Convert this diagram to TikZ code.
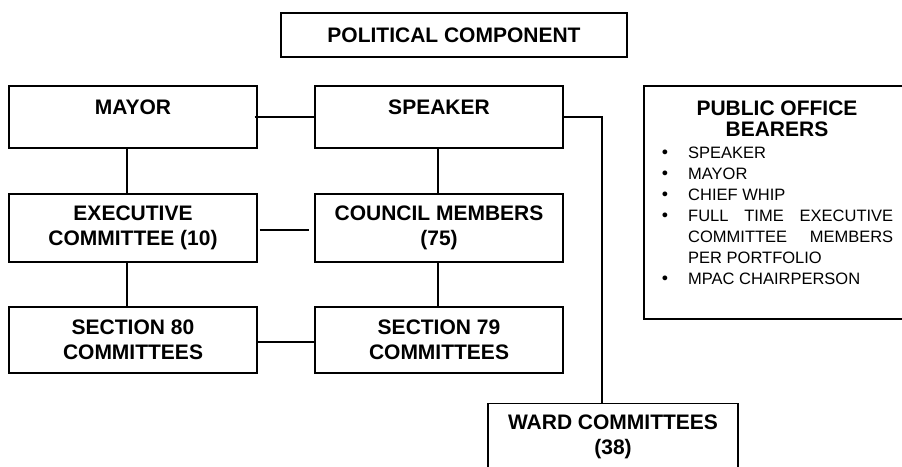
\documentclass[tikz,border=0pt]{standalone}
\usepackage{fontspec}
\setmainfont{Liberation Sans}
\newfontfamily\bulletfont{DejaVu Sans}
\newcommand{\officebullet}{{\bulletfont •}}
\begin{document}
\begin{tikzpicture}[x=1pt, y=-1pt,
        box/.style = {draw, line width=1.2pt, inner sep=0pt, align=center,
                      minimum width=248pt,
                      font=\bfseries\fontsize{21}{25}\selectfont},
        link/.style = {line width=1.2pt}]
        \useasboundingbox (0,0) rectangle (902,466);
        \node[box, minimum width=346pt, minimum height=44pt] (political) at (454, 35) {POLITICAL COMPONENT};
        \node[box, minimum height=62pt] (mayor)   at (133, 117) {MAYOR\\[-12pt]\strut};
        \node[box, minimum height=62pt] (speaker) at (439, 117) {SPEAKER\\[-12pt]\strut};
        \node[box, minimum height=68pt] (exec)    at (133, 228) {EXECUTIVE\\COMMITTEE (10)};
        \node[box, minimum height=68pt] (council) at (439, 228) {COUNCIL MEMBERS\\(75)};
        \node[box, minimum height=66pt] (sec80)   at (133, 340) {SECTION 80\\COMMITTEES};
        \node[box, minimum height=66pt] (sec79)   at (439, 340) {SECTION 79\\COMMITTEES};
        \node[box, minimum width=250pt, minimum height=67pt] (ward) at (613, 437) {WARD COMMITTEES\\(38)};
        \node[draw, line width=1.2pt, inner sep=0pt, minimum width=270pt, minimum height=233pt] (bearers) at (779, 202.5) {};
        \node[inner sep=0pt, align=center, font=\bfseries\fontsize{21}{21}\selectfont] (bearershead) at (777, 118.5) {PUBLIC OFFICE\\BEARERS};
        \node[inner sep=0pt, anchor=north west, font=\fontsize{16.5}{21}\selectfont] (bearerslist) at (660, 144)
            {\hyphenpenalty=10000
             \begin{tabular}{@{}p{28pt}@{}p{205pt}@{}}
             \officebullet & SPEAKER\\
             \officebullet & MAYOR\\
             \officebullet & CHIEF WHIP\\
             \officebullet & FULL TIME EXECUTIVE COMMITTEE MEMBERS PER PORTFOLIO\\
             \officebullet & MPAC CHAIRPERSON
             \end{tabular}};
        \draw[link] ([xshift=-3pt]mayor.east) -- (speaker.west);
        \draw[link] (speaker.east) -| ([xshift=-11pt]ward.north);
        \draw[link] ([xshift=2pt,yshift=-2pt]exec.east) -- ([xshift=-5pt,yshift=-2pt]council.west);
        \draw[link] ([yshift=-2pt]sec80.east) -- ([yshift=-2pt]sec79.west);
        \draw[link] ([xshift=-6pt]mayor.south) -- ([xshift=-6pt]exec.north);
        \draw[link] ([xshift=-6pt]exec.south) -- ([xshift=-6pt]sec80.north);
        \draw[link] ([xshift=-1pt]speaker.south) -- ([xshift=-1pt]council.north);
        \draw[link] ([xshift=-1pt]council.south) -- ([xshift=-1pt]sec79.north);
      \end{tikzpicture}
\end{document}
